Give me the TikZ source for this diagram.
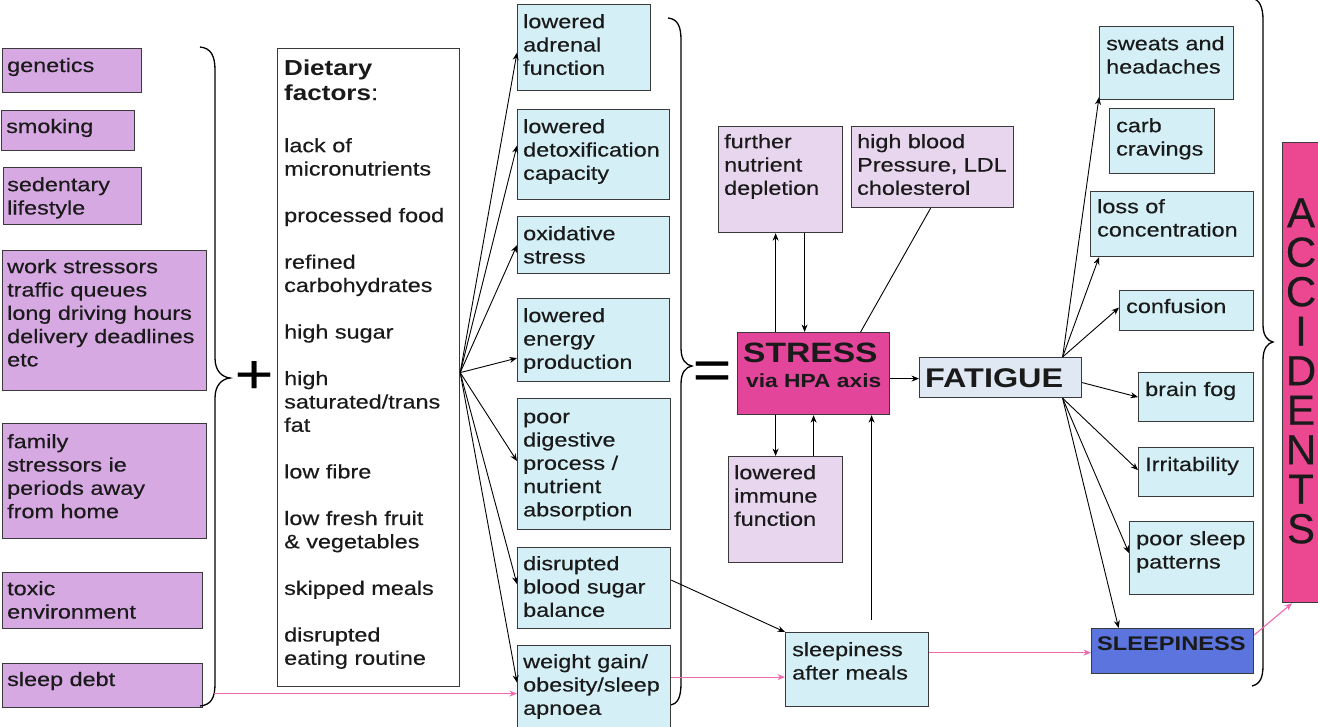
\documentclass[tikz,border=0pt]{standalone}
\usepackage{fontspec}
\setmainfont{Liberation Sans}[FakeStretch=1.2,UprightFeatures={FakeBold=0.4}]
\newfontfamily\accfont{Liberation Sans}[FakeBold=0.4]
\usetikzlibrary{arrows.meta,calc}
\definecolor{purp}{HTML}{D7A9E3}
\definecolor{cyanb}{HTML}{D4F0F6}
\definecolor{lav}{HTML}{E7D6EE}
\definecolor{mag}{HTML}{E2459A}
\definecolor{accpink}{HTML}{EC4892}
\definecolor{fatc}{HTML}{DFE8F3}
\definecolor{slc}{HTML}{5B74DE}
\definecolor{pinkl}{HTML}{F06AB0}
\definecolor{bcol}{HTML}{3A3A3A}
\definecolor{txc}{HTML}{1A1A1A}
\newcommand\fs{\fontsize{19.5}{23.3}\selectfont}
\newcommand\hs{\vrule width 0pt height 14.2pt depth 0pt\relax}
\begin{document}
\begin{tikzpicture}[x=1pt,y=-1pt,
 bx/.style={draw=bcol,line width=1.2pt,rectangle,inner sep=0pt,anchor=north west},
 tx/.style={anchor=north west,inner sep=0pt,align=left,font=\fs,text=txc,yshift=14.2pt},
 ts/.style={anchor=base west,inner sep=0pt,font=\fs,text=txc},
 ar/.style={draw=black,line width=0.9pt,-{Stealth[length=7.5pt,width=6pt]}},
 pk/.style={ar,draw=pinkl,line width=1.1pt},
 bracestyle/.style={draw=black,line width=1.3pt}]
\useasboundingbox (0,0) rectangle (1318,726);
\fill[white] (0,0) rectangle (1318,726);

% left column
\node[bx,fill=purp,minimum width=139pt,minimum height=44pt] (gen) at (2,48) {};
\node[bx,fill=purp,minimum width=133pt,minimum height=40pt] (smk) at (1,110) {};
\node[bx,fill=purp,minimum width=138pt,minimum height=57pt] (sed) at (3,167) {};
\node[bx,fill=purp,minimum width=204pt,minimum height=140pt] (work) at (2,250) {};
\node[bx,fill=purp,minimum width=204pt,minimum height=115pt] (fam) at (2,423) {};
\node[bx,fill=purp,minimum width=200pt,minimum height=56pt] (tox) at (2,572) {};
\node[bx,fill=purp,minimum width=200pt,minimum height=44pt] (sd) at (2,663) {};
\node[ts] (gen-t) at (7,72) {genetics};
\node[ts] (smk-t) at (6,133) {smoking};
\node[tx] (sed-t) at (7,191) {\hs sedentary\\lifestyle};
\node[tx] (work-t) at (7,273) {\hs work stressors\\traffic queues\\long driving hours\\delivery deadlines\\etc};
\node[tx] (fam-t) at (7,448) {\hs family\\stressors ie\\periods away\\from home};
\node[tx] (tox-t) at (7,595) {\hs toxic\\environment};
\node[ts] (sd-t) at (7,686) {sleep debt};

% braces and signs
\draw[bracestyle] (200,47) .. controls (211,48) and (215,56) .. (215,70) -- (215,358) .. controls (215,371) and (222,377) .. (230,378) .. controls (222,379) and (215,385) .. (215,398) -- (215,684) .. controls (215,698) and (211,705) .. (200,706);
\draw[bracestyle] (668,18) .. controls (678,19) and (681,27) .. (681,40) -- (681,348) .. controls (681,360) and (686,365) .. (692,366) .. controls (686,367) and (681,372) .. (681,384) -- (681,683) .. controls (681,697) and (678,704) .. (670,705);
\draw[bracestyle] (1251,-2) .. controls (1260,-1) and (1263,8) .. (1263,20) -- (1263,325) .. controls (1263,336) and (1268,341) .. (1273,342) .. controls (1268,343) and (1263,348) .. (1263,360) -- (1263,665) .. controls (1263,678) and (1260,684) .. (1252,686);
\node[font=\fontsize{55}{55}\selectfont,inner sep=0pt] (plus) at (254,377) {+};
\node[font=\fontsize{55}{55}\selectfont,inner sep=0pt] (eq) at (712,375) {=};

% dietary box
\node[bx,fill=white,minimum width=182pt,minimum height=638pt] (diet) at (277,48) {};
\node[anchor=north west,inner sep=0pt,align=left,font=\fontsize{21.7}{25}\selectfont,text=txc,yshift=15.8pt] (diet-h) at (284,75) {\vrule width 0pt height 15.8pt\textbf{Dietary}\\\textbf{factors}:};
\node[tx] (diet-l) at (284,152) {\hs lack of\\micronutrients\\[23.3pt]processed food\\[23.3pt]refined\\carbohydrates\\[23.3pt]high sugar\\[23.3pt]high\\saturated/trans\\fat\\[23.3pt]low fibre\\[23.3pt]low fresh fruit\\\& vegetables\\[23.3pt]skipped meals\\[23.3pt]disrupted\\eating routine};

% middle column
\node[bx,fill=cyanb,minimum width=133pt,minimum height=86pt] (adr) at (517,4) {};
\node[bx,fill=cyanb,minimum width=152pt,minimum height=90pt] (detox) at (517,109) {};
\node[bx,fill=cyanb,minimum width=152pt,minimum height=57pt] (oxi) at (517,216) {};
\node[bx,fill=cyanb,minimum width=152pt,minimum height=83pt] (ener) at (517,298) {};
\node[bx,fill=cyanb,minimum width=153pt,minimum height=131pt] (dig) at (517,398) {};
\node[bx,fill=cyanb,minimum width=153pt,minimum height=81pt] (dis) at (517,547) {};
\node[bx,fill=cyanb,minimum width=153pt,minimum height=85pt] (wgt) at (517,645) {};
\node[tx] (adr-t) at (523,28) {\hs lowered\\adrenal\\function};
\node[tx] (detox-t) at (523,133) {\hs lowered\\detoxification\\capacity};
\node[tx] (oxi-t) at (523,240) {\hs oxidative\\stress};
\node[tx] (ener-t) at (523,322) {\hs lowered\\energy\\production};
\node[tx] (dig-t) at (523,423) {\hs poor\\digestive\\process /\\nutrient\\absorption};
\node[tx] (dis-t) at (523,570) {\hs disrupted\\blood sugar\\balance};
\node[tx] (wgt-t) at (523,668) {\hs weight gain/\\obesity/sleep\\apnoea};

% centre
\node[bx,fill=lav,minimum width=124pt,minimum height=106pt] (fur) at (718,126) {};
\node[bx,fill=lav,minimum width=162pt,minimum height=81pt] (hbp) at (851,126) {};
\node[bx,fill=lav,minimum width=114pt,minimum height=106pt] (imm) at (728,456) {};
\node[bx,fill=mag,minimum width=152pt,minimum height=82pt] (stress) at (737,332) {};
\node[bx,fill=fatc,minimum width=162pt,minimum height=40pt] (fat) at (919,357) {};
\node[bx,fill=cyanb,minimum width=143pt,minimum height=74pt] (sam) at (785,632) {};
\node[tx] (fur-t) at (724,148) {\hs further\\nutrient\\depletion};
\node[tx] (hbp-t) at (857,148) {\hs high blood\\Pressure, LDL\\cholesterol};
\node[tx] (imm-t) at (734,479) {\hs lowered\\immune\\function};
\node[anchor=base west,inner sep=0pt,font=\fontsize{28}{28}\selectfont\bfseries,text=txc] (stress-t) at (743,362) {STRESS};
\node[anchor=base west,inner sep=0pt,font=\fontsize{19}{20}\selectfont\bfseries,text=txc] (stress-v) at (746,387) {via HPA axis};
\node[anchor=base west,inner sep=0pt,font=\fontsize{27}{27}\selectfont\bfseries,text=txc] (fat-t) at (925,387) {FATIGUE};
\node[tx] (sam-t) at (792,656) {\hs sleepiness\\after meals};

% right column
\node[bx,fill=cyanb,minimum width=134pt,minimum height=73pt] (swt) at (1099,26) {};
\node[bx,fill=cyanb,minimum width=105pt,minimum height=65pt] (carb) at (1109,108) {};
\node[bx,fill=cyanb,minimum width=163pt,minimum height=65pt] (loss) at (1090,191) {};
\node[bx,fill=cyanb,minimum width=134pt,minimum height=40pt] (conf) at (1119,290) {};
\node[bx,fill=cyanb,minimum width=115pt,minimum height=49pt] (bfog) at (1138,372) {};
\node[bx,fill=cyanb,minimum width=115pt,minimum height=49pt] (irr) at (1138,447) {};
\node[bx,fill=cyanb,minimum width=124pt,minimum height=73pt] (psl) at (1129,521) {};
\node[bx,fill=slc,minimum width=162pt,minimum height=45pt] (sl) at (1091,628) {};
\node[bx,fill=accpink,minimum width=42pt,minimum height=460pt] (acc) at (1282,142) {};
\node[tx] (swt-t) at (1106,50) {\hs sweats and\\headaches};
\node[tx] (carb-t) at (1116,132) {\hs carb\\cravings};
\node[tx] (loss-t) at (1097,213) {\hs loss of\\concentration};
\node[ts] (conf-t) at (1126,313) {confusion};
\node[ts] (bfog-t) at (1145,396) {brain fog};
\node[ts] (irr-t) at (1145,471) {Irritability};
\node[tx] (psl-t) at (1136,545) {\hs poor sleep\\patterns};
\node[anchor=base west,inner sep=0pt,font=\fontsize{19.7}{20}\selectfont\bfseries,text=txc] (sl-t) at (1097,650) {SLEEPINESS};
\node[anchor=north,inner sep=0pt,align=center,font=\accfont\fontsize{42}{39.5}\selectfont,text=txc,yshift=30.2pt] (acc-t) at (1301,227) {\vrule width 0pt height 30.2pt A\\C\\C\\I\\D\\E\\N\\T\\S};

% connectors: dietary fan
\coordinate (dfan) at ([yshift=-5pt]diet.east);
\draw[ar] (dfan) -- ([yshift=-5pt]adr.west);
\draw[ar] (dfan) -- ([yshift=9pt]detox.west);
\draw[ar] (dfan) -- (oxi.west);
\draw[ar] (dfan) -- ([yshift=-18pt]ener.west);
\draw[ar] (dfan) -- ([yshift=3pt]dig.west);
\draw[ar] (dfan) -- ([yshift=4pt]dis.west);
\draw[ar] (dfan) -- ([yshift=5.5pt]wgt.west);

% pink connectors
\draw[pk] ([xshift=11pt,yshift=-8pt]sd.east) -- ([yshift=-8pt]sd.east -| wgt.west);
\draw[pk] ([yshift=11pt]wgt.east) -- ([yshift=11pt]wgt.east -| sam.west);
\draw[pk] ([yshift=17pt]sam.east) -- ([yshift=17pt]sam.east -| sl.west);
\draw[pk] ([yshift=-7pt]sl.north east) -- ([xshift=10pt]acc.south west);

% centre connectors
\draw[ar] ([yshift=8pt]dis.east) -- (sam.north west);
\draw[ar] ([xshift=14.5pt,yshift=12pt]sam.north) -- ([xshift=14.5pt]sam.north |- stress.south);
\draw[ar] ([xshift=-5pt]fur.south |- stress.north) -- ([xshift=-5pt]fur.south);
\draw[ar] ([xshift=24pt]fur.south) -- ([xshift=24pt]fur.south |- stress.north);
\draw[ar] ([xshift=-10pt]imm.north |- stress.south) -- ([xshift=-10pt]imm.north);
\draw[ar] ([xshift=28pt]imm.north) -- ([xshift=28pt]imm.north |- stress.south);
\draw[line width=0.9pt] ([xshift=-2pt]hbp.south) -- ([xshift=47pt]stress.north);
\draw[ar] ([yshift=-5pt]stress.east) -- ([yshift=-5pt]stress.east -| fat.west);

% fatigue fan
\coordinate (ftop) at ([xshift=62pt]fat.north);
\coordinate (fbot) at ([xshift=62pt]fat.south);
\draw[ar] (ftop) -- ([yshift=3pt]swt.south west);
\draw[ar] (ftop) -- ([xshift=9pt]loss.south west);
\draw[ar] (ftop) -- ([yshift=3pt]conf.west);
\draw[ar] ([yshift=-5pt]fat.east) -- (bfog.west);
\draw[ar] (fbot) -- ([yshift=2pt]irr.west);
\draw[ar] (fbot) -- ([yshift=5pt]psl.west);
\draw[ar] (fbot) -- ([xshift=-54pt]sl.north);
\end{tikzpicture}
\end{document}
